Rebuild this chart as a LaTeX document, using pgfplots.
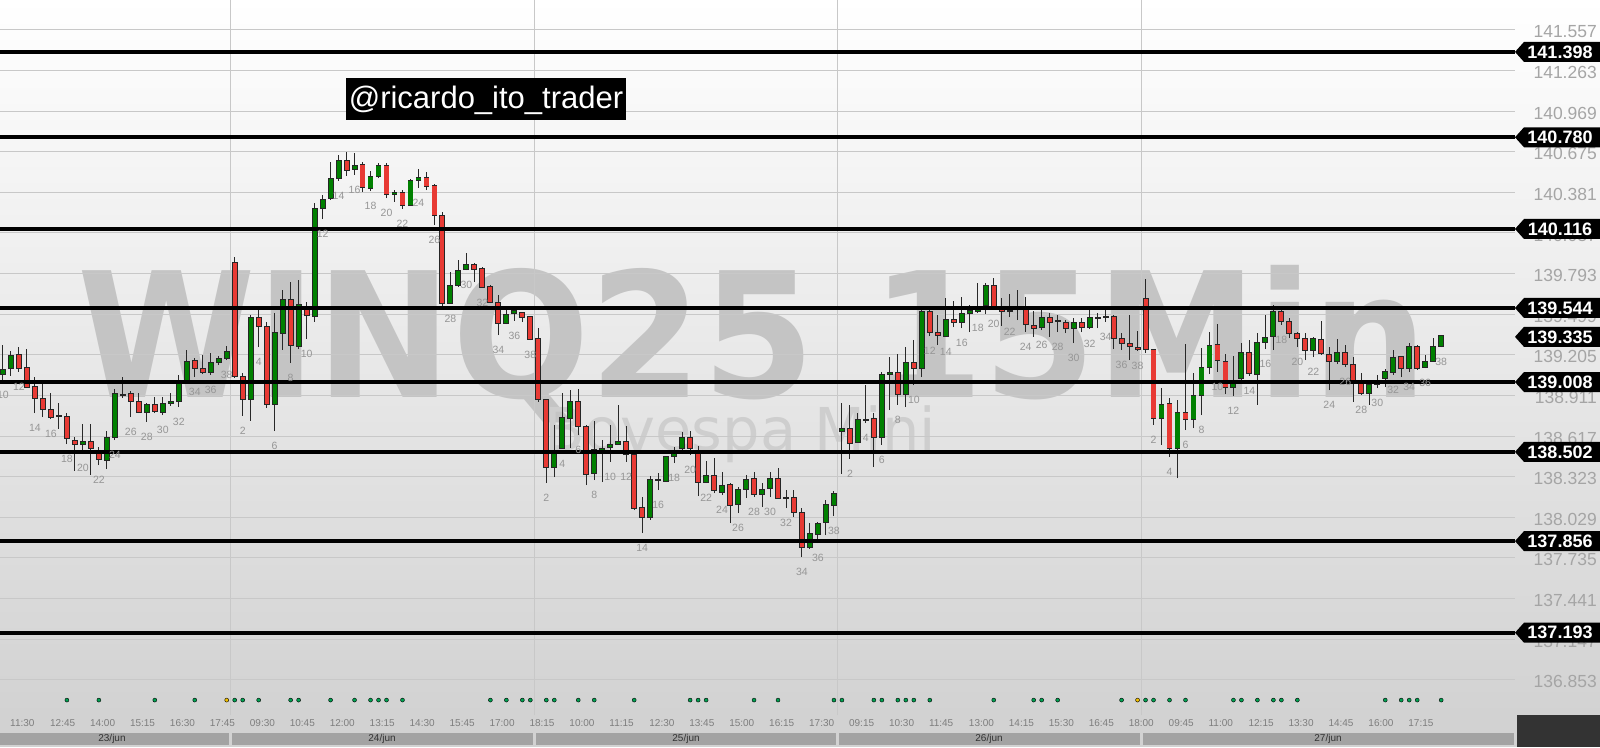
\documentclass[border=0pt]{standalone}
\usepackage{graphicx}
\usepackage{pgfplots}
\pgfplotsset{compat=1.18}
\usepackage{pgfplotstable}
\usetikzlibrary{backgrounds}
\usepackage{fontspec}
\setmainfont{Liberation Sans}
\newfontfamily\djv{DejaVu Sans}
\definecolor{cgreen}{RGB}{0,128,0}
\definecolor{cred}{RGB}{232,58,52}
\definecolor{gridc}{RGB}{200,200,200}
\definecolor{bgbot}{RGB}{210,210,210}
\definecolor{wmc}{RGB}{196,196,196}
\definecolor{wmc2}{RGB}{206,206,206}
\definecolor{numc}{RGB}{150,150,150}
\definecolor{tickc}{RGB}{165,165,165}
\definecolor{timec}{RGB}{125,125,125}
\definecolor{dotg}{RGB}{0,160,80}
\definecolor{doty}{RGB}{240,190,0}
\definecolor{datebar}{RGB}{163,163,163}
\definecolor{wickc}{RGB}{40,40,40}

\pgfplotstableread{
x o h l c
0 139.066 139.276 139.022 139.095
1 139.109 139.233 139.052 139.197
2 139.204 139.261 139.081 139.109
3 139.109 139.247 138.964 138.971
4 138.971 139.044 138.783 138.892
5 138.885 139.008 138.754 138.813
6 138.805 138.928 138.740 138.754
7 138.762 138.856 138.668 138.762
8 138.754 138.783 138.559 138.602
9 138.581 138.609 138.364 138.559
10 138.559 138.704 138.494 138.574
11 138.574 138.704 138.335 138.530
12 138.487 138.537 138.407 138.451
13 138.443 138.653 138.378 138.602
14 138.609 138.957 138.588 138.921
15 138.914 139.044 138.892 138.914
16 138.921 138.943 138.754 138.871
17 138.864 138.928 138.783 138.791
18 138.791 138.856 138.719 138.842
19 138.842 138.899 138.783 138.798
20 138.791 138.899 138.769 138.849
21 138.856 138.928 138.835 138.864
22 138.871 139.059 138.827 139.000
23 139.008 139.240 139.000 139.153
24 139.160 139.182 139.044 139.109
25 139.102 139.204 139.066 139.081
26 139.081 139.218 139.059 139.145
27 139.153 139.197 139.131 139.175
28 139.182 139.269 139.167 139.226
29 139.869 139.913 139.037 139.052
30 139.044 139.073 138.762 138.885
31 138.885 139.493 138.726 139.471
32 139.471 139.551 139.261 139.414
33 139.406 139.443 138.820 138.849
34 138.849 139.507 138.653 139.362
35 139.362 139.674 139.240 139.602
36 139.602 139.732 139.145 139.276
37 139.269 139.746 139.247 139.566
38 139.544 139.588 139.319 139.493
39 139.486 140.304 139.443 140.261
40 140.268 140.362 140.188 140.326
41 140.340 140.601 140.326 140.478
42 140.485 140.652 140.464 140.608
43 140.608 140.674 140.500 140.543
44 140.550 140.666 140.507 140.572
45 140.579 140.601 140.384 140.420
46 140.413 140.536 140.391 140.492
47 140.500 140.593 140.485 140.572
48 140.572 140.593 140.340 140.369
49 140.369 140.398 140.312 140.376
50 140.376 140.398 140.261 140.290
51 140.290 140.478 140.283 140.464
52 140.471 140.550 140.413 140.485
53 140.485 140.529 140.398 140.428
54 140.428 140.442 140.145 140.217
55 140.210 140.239 139.544 139.580
56 139.580 139.805 139.573 139.703
57 139.710 139.891 139.696 139.812
58 139.826 139.942 139.819 139.855
59 139.855 139.869 139.732 139.826
60 139.826 139.840 139.689 139.696
61 139.696 139.710 139.580 139.588
62 139.580 139.638 139.348 139.435
63 139.435 139.529 139.428 139.493
64 139.507 139.529 139.450 139.522
65 139.507 139.515 139.443 139.478
66 139.478 139.486 139.312 139.319
67 139.319 139.399 138.864 138.885
68 138.878 138.885 138.276 138.392
69 138.392 138.697 138.320 138.502
70 138.530 138.928 138.523 138.747
71 138.747 138.950 138.530 138.864
72 138.864 138.957 138.624 138.690
73 138.682 138.697 138.262 138.342
74 138.349 138.726 138.298 138.516
75 138.516 138.588 138.284 138.523
76 138.537 138.697 138.429 138.552
77 138.559 138.842 138.552 138.574
78 138.574 138.690 138.429 138.487
79 138.480 138.487 138.081 138.095
80 138.095 138.175 137.914 138.030
81 138.030 138.327 138.009 138.298
82 138.298 138.349 138.226 138.298
83 138.291 138.472 138.284 138.465
84 138.472 138.537 138.421 138.502
85 138.530 138.646 138.516 138.602
86 138.602 138.653 138.480 138.530
87 138.502 138.545 138.182 138.284
88 138.284 138.436 138.276 138.327
89 138.327 138.458 138.204 138.226
90 138.211 138.356 138.190 138.255
91 138.262 138.276 137.987 138.117
92 138.124 138.248 138.059 138.226
93 138.233 138.335 138.168 138.298
94 138.306 138.356 138.175 138.197
95 138.197 138.276 138.103 138.226
96 138.240 138.356 138.175 138.306
97 138.306 138.385 138.161 138.168
98 138.168 138.226 138.095 138.168
99 138.168 138.226 138.030 138.066
100 138.059 138.095 137.741 137.813
101 137.813 137.987 137.799 137.907
102 137.907 137.994 137.842 137.980
103 137.994 138.153 137.900 138.117
104 138.117 138.219 138.037 138.197
105 138.653 138.856 138.342 138.668
106 138.668 138.842 138.451 138.566
107 138.574 138.783 138.566 138.733
108 138.733 138.986 138.711 138.733
109 138.740 138.783 138.392 138.609
110 138.609 139.081 138.552 139.059
111 139.066 139.189 138.805 139.073
112 139.073 139.211 138.842 138.921
113 138.921 139.261 138.827 139.145
114 139.145 139.312 138.986 139.109
115 139.109 139.551 139.044 139.515
116 139.515 139.551 139.341 139.370
117 139.362 139.493 139.276 139.348
118 139.341 139.616 139.334 139.457
119 139.457 139.595 139.406 139.443
120 139.443 139.623 139.399 139.500
121 139.507 139.566 139.370 139.522
122 139.522 139.725 139.507 139.551
123 139.566 139.725 139.500 139.703
124 139.703 139.761 139.537 139.544
125 139.537 139.616 139.414 139.522
126 139.522 139.645 139.478 139.522
127 139.537 139.674 139.457 139.551
128 139.551 139.623 139.370 139.428
129 139.414 139.522 139.334 139.399
130 139.406 139.529 139.384 139.471
131 139.471 139.507 139.334 139.443
132 139.450 139.493 139.370 139.450
133 139.435 139.457 139.362 139.399
134 139.399 139.471 139.290 139.435
135 139.435 139.471 139.370 139.406
136 139.406 139.551 139.392 139.471
137 139.471 139.507 139.399 139.471
138 139.478 139.529 139.443 139.478
139 139.478 139.493 139.247 139.326
140 139.319 139.362 139.240 139.290
141 139.283 139.493 139.167 139.269
142 139.254 139.377 139.233 139.247
143 139.609 139.754 139.218 139.247
144 139.240 139.247 138.697 138.747
145 138.747 138.964 138.552 138.842
146 138.849 138.892 138.465 138.530
147 138.530 138.878 138.313 138.783
148 138.783 139.283 138.660 138.740
149 138.740 139.073 138.675 138.906
150 138.914 139.254 138.769 139.109
151 139.116 139.370 139.066 139.269
152 139.276 139.428 139.081 139.167
153 139.153 139.211 138.921 138.971
154 138.971 139.197 138.906 139.008
155 139.037 139.290 139.000 139.218
156 139.218 139.312 139.052 139.073
157 139.066 139.362 138.842 139.290
158 139.298 139.493 139.247 139.326
159 139.341 139.566 139.240 139.515
160 139.515 139.551 139.421 139.450
161 139.443 139.471 139.326 139.362
162 139.355 139.370 139.261 139.326
163 139.319 139.362 139.167 139.240
164 139.240 139.334 139.189 139.319
165 139.312 139.450 139.204 139.218
166 139.204 139.261 138.950 139.160
167 139.160 139.319 139.138 139.218
168 139.218 139.276 139.116 139.138
169 139.131 139.189 138.864 139.000
170 139.000 139.073 138.914 138.928
171 138.928 139.000 138.842 138.986
172 138.993 139.059 138.964 139.015
173 139.037 139.102 138.971 139.081
174 139.081 139.240 139.059 139.182
175 139.189 139.197 139.044 139.109
176 139.109 139.290 139.081 139.261
177 139.261 139.276 139.095 139.109
178 139.116 139.204 139.109 139.153
179 139.160 139.326 139.153 139.261
180 139.269 139.348 139.261 139.341
}\candles

\begin{document}
\begin{tikzpicture}[x=1pt,y=1pt]
\begin{axis}[scale only axis,
  width=1515pt, height=715pt,
  xmin=-0.375, xmax=189.24, ymin=136.597, ymax=141.774,
  axis line style={draw=none}, major tick length=0pt, tick style={draw=none},
  ytick={136.853,137.147,137.441,137.735,138.029,138.323,138.617,138.911,139.205,139.499,139.793,140.087,140.381,140.675,140.969,141.263,141.557},
  yticklabels={136.853,137.147,137.441,137.735,138.029,138.323,138.617,138.911,139.205,139.499,139.793,140.087,140.381,140.675,140.969,141.263,141.557},
  yticklabel pos=right,
  yticklabel style={overlay, anchor=east, inner sep=0pt, xshift=82pt, yshift=-2pt, text=tickc, font=\fontsize{17.5}{17.5}\selectfont},
  ymajorgrids, grid style={draw=gridc, line width=1pt},
  xtick={1,6,...,176},
  xticklabels={11:30,12:45,14:00,15:15,16:30,17:45,09:30,10:45,12:00,13:15,14:30,15:45,17:00,18:15,10:00,11:15,12:30,13:45,15:00,16:15,17:30,09:15,10:30,11:45,13:00,14:15,15:30,16:45,18:00,09:45,11:00,12:15,13:30,14:45,16:00,17:15},
  xticklabel style={overlay, anchor=north west, inner sep=0pt, xshift=-1pt, yshift=-4pt, text=timec, font=\fontsize{10}{10}\selectfont},
  extra x ticks={28.5,66.5,104.5,142.5}, extra x tick labels={},
  extra x tick style={grid=major},
]
% wicks
\addplot[draw=none, mark=none, forget plot, error bars/.cd, y dir=plus, y explicit, error mark=none, error bar style={line width=1pt, draw=wickc}]
  table[x=x, y=l, y error expr=\thisrow{h}-\thisrow{l}] {\candles};
% body outlines
\addplot[draw=none, mark=none, forget plot, error bars/.cd, y dir=plus, y explicit, error mark=none, error bar style={line width=5.9pt, draw=black!85}]
  table[x=x, y expr={min(\thisrow{o},\thisrow{c})-0.006}, y error expr={abs(\thisrow{c}-\thisrow{o})+0.012}] {\candles};
% green bodies
\addplot[draw=none, mark=none, forget plot, restrict expr to domain={\thisrow{c}-\thisrow{o}}{0.0005:100}, error bars/.cd, y dir=plus, y explicit, error mark=none, error bar style={line width=4.1pt, draw=cgreen}]
  table[x=x, y=o, y error expr=\thisrow{c}-\thisrow{o}] {\candles};
% red bodies
\addplot[draw=none, mark=none, forget plot, restrict expr to domain={\thisrow{o}-\thisrow{c}}{0.0005:100}, error bars/.cd, y dir=plus, y explicit, error mark=none, error bar style={line width=4.1pt, draw=cred}]
  table[x=x, y=c, y error expr=\thisrow{o}-\thisrow{c}] {\candles};
% candle numbers
\addplot[draw=none, mark=none, each nth point=2, filter discard warning=false,
  nodes near coords={\pgfmathprintnumber[assume math mode=true]{\pgfplotspointmeta}},
  point meta={mod(\thisrow{x}+9,38)+1},
  nodes near coords align={anchor=center},
  every node near coord/.append style={overlay, yshift=-15pt, inner sep=0pt, text=numc, font=\fontsize{10.5}{10.5}\selectfont}]
  table[x=x, y=l] {\candles};
% indicator dots
\addplot[only marks, mark=*, mark size=2pt, mark options={draw=none, fill=dotg}] coordinates {
(8,136.705) (12,136.705) (19,136.705) (24,136.705) (29,136.705) (30,136.705) (32,136.705) (36,136.705) (37,136.705) (41,136.705) (44,136.705) (46,136.705) (47,136.705) (48,136.705) (50,136.705) (61,136.705) (63,136.705) (65,136.705) (66,136.705) (68,136.705) (69,136.705) (72,136.705) (74,136.705) (79,136.705) (86,136.705) (87,136.705) (88,136.705) (94,136.705) (97,136.705) (104,136.705) (105,136.705) (109,136.705) (110,136.705) (112,136.705) (113,136.705) (114,136.705) (116,136.705) (124,136.705) (129,136.705) (130,136.705) (132,136.705) (140,136.705) (143,136.705) (144,136.705) (146,136.705) (148,136.705) (154,136.705) (155,136.705) (157,136.705) (159,136.705) (160,136.705) (162,136.705) (173,136.705) (175,136.705) (176,136.705) (177,136.705) (180,136.705)};
\addplot[only marks, mark=*, mark size=2pt, mark options={draw=none, fill=doty}] coordinates {(28,136.705) (142,136.705)};
% levels
\pgfplotsinvokeforeach{141.398,140.780,140.116,139.544,139.008,138.502,137.856,137.193}{
  \addplot[black, line width=4pt, mark=none] coordinates {(-0.375,#1) (189.24,#1)};
}
\coordinate (O) at (rel axis cs:0,0);
\coordinate (T1) at (axis cs:189.24,141.398);
\coordinate (T2) at (axis cs:189.24,140.780);
\coordinate (T3) at (axis cs:189.24,140.116);
\coordinate (T4) at (axis cs:189.24,139.544);
\coordinate (T5) at (axis cs:189.24,139.335);
\coordinate (T6) at (axis cs:189.24,139.008);
\coordinate (T7) at (axis cs:189.24,138.502);
\coordinate (T8) at (axis cs:189.24,137.856);
\coordinate (T9) at (axis cs:189.24,137.193);
\end{axis}

\begin{scope}[shift={(O)}, yshift=-32pt]
\begin{scope}[on background layer]
\shade[top color=white, bottom color=bgbot] (0,32) rectangle (1600,747);
\fill[bgbot] (0,0) rectangle (1600,32);
\node[anchor=base, text=wmc, inner sep=0pt, font=\djv\bfseries\fontsize{174}{174}\selectfont] at (753,349) {\scalebox{0.93}[1]{WINQ25 15Min}};
\node[anchor=base, text=wmc2, inner sep=0pt, font=\djv\fontsize{59}{59}\selectfont] at (740,296) {Bovespa Mini};
\end{scope}

% date bars
\fill[datebar] (0,2) rectangle (229,14);
\fill[datebar] (232,2) rectangle (533,14);
\fill[datebar] (536,2) rectangle (836,14);
\fill[datebar] (839,2) rectangle (1140,14);
\fill[datebar] (1143,2) rectangle (1514,14);
\node[text=black!80, font=\fontsize{10}{10}\selectfont] at (112,8) {23/jun};
\node[text=black!80, font=\fontsize{10}{10}\selectfont] at (382,8) {24/jun};
\node[text=black!80, font=\fontsize{10}{10}\selectfont] at (686,8) {25/jun};
\node[text=black!80, font=\fontsize{10}{10}\selectfont] at (989,8) {26/jun};
\node[text=black!80, font=\fontsize{10}{10}\selectfont] at (1328,8) {27/jun};
\fill[black!80] (1517,0) rectangle (1600,32);

% title
\fill[black] (346,627) rectangle (626,669);
\node[anchor=base, text=white, inner sep=0pt, font=\fontsize{31}{31}\selectfont] at (486,638) {@ricardo\_ito\_trader};
\end{scope}

\foreach \c/\t in {T1/141.398,T2/140.780,T3/140.116,T4/139.544,T5/139.335,T6/139.008,T7/138.502,T8/137.856,T9/137.193}{
  \fill[black] (\c) -- ++(9,10) -- ++(76,0) -- ++(0,-20) -- ++(-76,0) -- cycle;
  \node[text=white, inner sep=0pt, font=\bfseries\fontsize{18}{18}\selectfont] at ([xshift=45pt]\c) {\t};
}

\pgfresetboundingbox
\path[use as bounding box] ([yshift=-32pt]O) rectangle ([xshift=1600pt,yshift=715pt]O);
\end{tikzpicture}
\end{document}
